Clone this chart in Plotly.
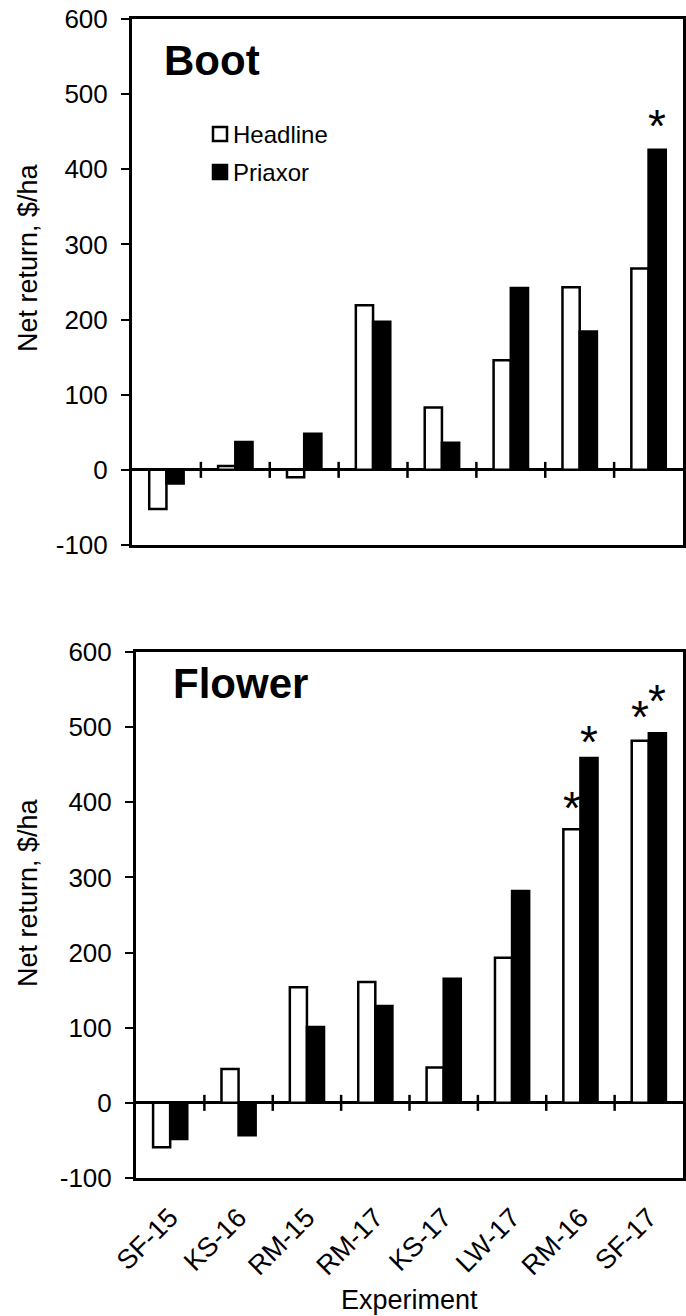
import plotly.graph_objects as go

# ---------------- data ----------------
experiments = ["SF-15", "KS-16", "RM-15", "RM-17", "KS-17", "LW-17", "RM-16", "SF-17"]
series_names = ["Headline", "Priaxor"]

boot_headline = [-52, 5, -10, 219, 83, 146, 243, 268]
boot_priaxor = [-18, 37, 48, 197, 36, 242, 184, 426]

flower_headline = [-59, 45, 154, 161, 47, 193, 364, 482]
flower_priaxor = [-48, -43, 101, 129, 165, 282, 459, 492]

# significance markers: (series index, experiment)
boot_stars = [(1, "SF-17")]
flower_stars = [(0, "RM-16"), (1, "RM-16"), (0, "SF-17"), (1, "SF-17")]

y_ticks = [-100, 0, 100, 200, 300, 400, 500, 600]
y_ticktext = ["-100", "0", "100", "200", "300", "400", "500", "600"]

# ---------------- style ----------------
W, H = 686, 1316
FONT = "Liberation Sans, Arial, sans-serif"
BARGAP = 0.5
fills = ["white", "black"]

def px_x(p):
    return p / W

def px_y(p):
    return 1 - p / H

top_dom_y = [px_y(545), px_y(19)]
bot_dom_y = [px_y(1178), px_y(652)]
top_dom_x = [px_x(132), px_x(683)]
bot_dom_x = [px_x(136), px_x(683)]

xs = list(range(len(experiments)))

fig = go.Figure()

def add_panel(vals_list, xa, ya):
    for k, (name, vals) in enumerate(zip(series_names, vals_list)):
        fig.add_trace(go.Bar(
            x=xs, y=vals, name=name, xaxis=xa, yaxis=ya,
            marker=dict(color=fills[k], line=dict(color="black", width=2.5)),
            offsetgroup=str(k), showlegend=False,
        ))

add_panel([boot_headline, boot_priaxor], "x", "y")
add_panel([flower_headline, flower_priaxor], "x2", "y2")

axis_common = dict(
    range=[-0.5, len(experiments) - 0.5], showgrid=False, zeroline=False,
    showline=True, linecolor="black", linewidth=3, mirror=True,
    ticks="", fixedrange=True, automargin=False,
)
yaxis_common = dict(
    range=[y_ticks[0], y_ticks[-1]], tickvals=y_ticks, ticktext=y_ticktext,
    showgrid=False,
    zeroline=True, zerolinecolor="black", zerolinewidth=3,
    showline=True, linecolor="black", linewidth=3, mirror=True,
    ticks="outside", ticklen=8, tickwidth=1.5, tickcolor="black",
    tickfont=dict(family=FONT, size=26, color="black"),
    ticklabelstandoff=8, automargin=False,
)

fig.update_layout(
    template="none",
    width=W, height=H, margin=dict(l=0, r=0, t=0, b=0, pad=0, autoexpand=False),
    paper_bgcolor="white", plot_bgcolor="white",
    barmode="group", bargap=BARGAP, bargroupgap=0,
    showlegend=False,
    xaxis=dict(domain=top_dom_x, anchor="y", showticklabels=False, **axis_common),
    yaxis=dict(domain=top_dom_y, anchor="x", **yaxis_common),
    xaxis2=dict(domain=bot_dom_x, anchor="y2", tickvals=xs, ticktext=experiments,
                tickangle=-45, tickfont=dict(family=FONT, size=27, color="black"),
                ticklabelstandoff=10, **axis_common),
    yaxis2=dict(domain=bot_dom_y, anchor="x2", **yaxis_common),
)

# separator ticks crossing the zero line
for xa, ya in [("x", "y"), ("x2", "y2")]:
    for i in range(len(experiments) - 1):
        fig.add_shape(type="line", xref=xa, yref=ya, x0=i + 0.5, x1=i + 0.5,
                      ysizemode="pixel", yanchor=0, y0=-8, y1=8,
                      line=dict(color="black", width=2.5))

# asterisks
half = (1 - BARGAP) / 2
def add_stars(stars, vals_list, xa, ya, shifts):
    for (k, exp), sh in zip(stars, shifts):
        i = experiments.index(exp)
        xpos = i - half / 2 if k == 0 else i + half / 2
        fig.add_annotation(x=xpos, y=vals_list[k][i], xref=xa, yref=ya,
                           text="*", showarrow=False, yanchor="middle",
                           yshift=sh, font=dict(family=FONT, size=46, color="black"))

add_stars(boot_stars, [boot_headline, boot_priaxor], "x", "y", [24])
add_stars(flower_stars, [flower_headline, flower_priaxor], "x2", "y2", [21, 16, 24, 32])

# panel labels
fig.add_annotation(x=px_x(162), y=px_y(60), xref="paper", yref="paper", text="<b>Boot</b>",
                   showarrow=False, xanchor="left", yanchor="middle",
                   font=dict(family=FONT, size=42, color="black"))
fig.add_annotation(x=px_x(171), y=px_y(683), xref="paper", yref="paper", text="<b>Flower</b>",
                   showarrow=False, xanchor="left", yanchor="middle",
                   font=dict(family=FONT, size=42, color="black"))

# y titles
for yc in [258, 893]:
    fig.add_annotation(x=px_x(28), y=px_y(yc), xref="paper", yref="paper",
                       text="Net return, $/ha", textangle=-90, showarrow=False,
                       xanchor="center", yanchor="middle",
                       font=dict(family=FONT, size=27, color="black"))

# x title
fig.add_annotation(x=px_x(409), y=px_y(1300), xref="paper", yref="paper",
                   text="Experiment", showarrow=False, xanchor="center", yanchor="middle",
                   font=dict(family=FONT, size=27, color="black"))

# custom legend (top panel)
leg_rows = [134, 172]
for k, (name, yc) in enumerate(zip(series_names, leg_rows)):
    fig.add_shape(type="rect", xref="paper", yref="paper",
                  x0=px_x(213), x1=px_x(227), y0=px_y(yc - 7), y1=px_y(yc + 7),
                  fillcolor=fills[k], line=dict(color="black", width=2.5))
    fig.add_annotation(x=px_x(231), y=px_y(yc), xref="paper", yref="paper",
                       text=name, showarrow=False, xanchor="left", yanchor="middle",
                       font=dict(family=FONT, size=24, color="black"))

fig.write_html("out.html")
